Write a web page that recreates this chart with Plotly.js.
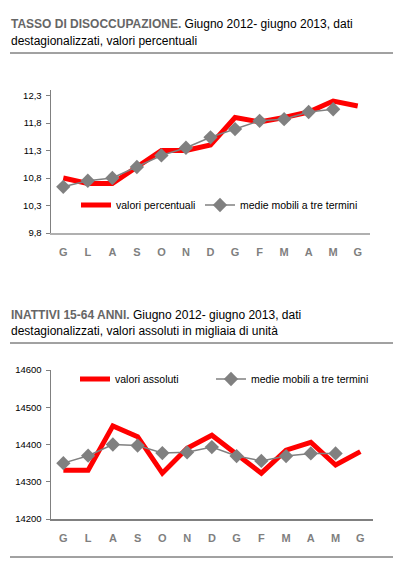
<!DOCTYPE html>
<html>
<head>
<meta charset="utf-8">
<script src="https://cdn.plot.ly/plotly-3.0.1.min.js"></script>
<style>html,body{margin:0;padding:0;background:#fff;}#chart{width:399px;height:570px;}</style>
</head>
<body>
<div id="chart"></div>
<script>
// ---- data ----
var months = ['G','L','A','S','O','N','D','G','F','M','A','M','G'];
var rateValues = [10.8, 10.7, 10.7, 11.0, 11.3, 11.3, 11.4, 11.9, 11.82, 11.9, 12.0, 12.2, 12.11];
var rateMovingAvg = [10.64, 10.75, 10.8, 11.0, 11.21, 11.35, 11.54, 11.69, 11.84, 11.87, 12.0, 12.05, null];
var rateTickVals = [9.8, 10.3, 10.8, 11.3, 11.8, 12.3];
var rateTickText = ['9,8', '10,3', '10,8', '11,3', '11,8', '12,3'];
var inactValues = [14331, 14331, 14450, 14421, 14323, 14390, 14425, 14372, 14323, 14385, 14406, 14345, 14381];
var inactMovingAvg = [14350, 14370, 14400, 14397, 14377, 14379, 14393, 14369, 14356, 14369, 14376, 14376, null];
var inactTickVals = [14200, 14300, 14400, 14500, 14600];
var inactTickText = ['14200', '14300', '14400', '14500', '14600'];
var nameRate = 'valori percentuali';
var nameInact = 'valori assoluti';
var nameMA = 'medie mobili a tre termini';
var title1Bold = 'TASSO DI DISOCCUPAZIONE.';
var title1Line1 = ' Giugno 2012- giugno 2013, dati';
var title1Line2 = 'destagionalizzati, valori percentuali';
var title2Bold = 'INATTIVI 15-64 ANNI.';
var title2Line1 = ' Giugno 2012- giugno 2013, dati';
var title2Line2 = 'destagionalizzati, valori assoluti in migliaia di unità';

// ---- layout helpers ----
var W = 399, H = 570;
function fx(p){ return p / W; }
function fy(p){ return 1 - p / H; }
var idx = months.map(function(_, i){ return i; });
var FONT = 'Liberation Sans, Arial, sans-serif';
var RED = '#ff0000', GRAY = '#808080';

var traces = [
  {x: idx, y: rateValues, xaxis: 'x', yaxis: 'y', name: nameRate, mode: 'lines',
   line: {color: RED, width: 5}, legend: 'legend'},
  {x: idx, y: rateMovingAvg, xaxis: 'x', yaxis: 'y', name: nameMA, mode: 'lines+markers',
   line: {color: GRAY, width: 1.5}, marker: {symbol: 'diamond', size: 11, color: GRAY}, legend: 'legend2'},
  {x: idx, y: inactValues, xaxis: 'x2', yaxis: 'y2', name: nameInact, mode: 'lines',
   line: {color: RED, width: 5}, legend: 'legend3'},
  {x: idx, y: inactMovingAvg, xaxis: 'x2', yaxis: 'y2', name: nameMA, mode: 'lines+markers',
   line: {color: GRAY, width: 1.5}, marker: {symbol: 'diamond', size: 11, color: GRAY}, legend: 'legend4'}
];

function xAxis(domain, anchor, lc, lw){
  return {domain: domain, anchor: anchor, range: [-0.5, months.length - 0.5],
    tickmode: 'array', tickvals: idx, ticktext: months.map(function(m){ return '<b>' + m + '</b>'; }),
    showgrid: false, zeroline: false, showline: true, linecolor: lc, linewidth: lw,
    ticks: '', ticklabelstandoff: 8,
    tickfont: {family: FONT, size: 11, color: '#7f7f7f'}, fixedrange: true};
}
function yAxis(domain, anchor, range, tv, tt){
  return {domain: domain, anchor: anchor, range: range, tickmode: 'array', tickvals: tv, ticktext: tt,
    showgrid: false, zeroline: false, showline: true, linecolor: GRAY, linewidth: 1.5,
    ticks: 'outside', ticklen: 4, tickcolor: GRAY, tickwidth: 1, ticklabelstandoff: 2,
    tickfont: {family: FONT, size: 9.5, color: '#000'}, fixedrange: true};
}
function legendAt(px, py){
  return {x: fx(px), y: fy(py), xanchor: 'left', yanchor: 'middle', orientation: 'h',
    bgcolor: 'rgba(0,0,0,0)', borderwidth: 0, font: {family: FONT, size: 10.5, color: '#000'}, tracegroupgap: 0};
}
var lineShape = function(py){
  return {type: 'line', xref: 'paper', yref: 'paper', x0: fx(10), x1: fx(393), y0: fy(py), y1: fy(py),
    line: {color: '#444', width: 1}};
};
function titleLine(text, py){
  return {xref: 'paper', yref: 'paper', x: fx(9), y: fy(py), xanchor: 'left', yanchor: 'middle', align: 'left',
    showarrow: false, text: text, font: {family: FONT, size: 12, color: '#000'}};
}

var layout = {
  width: W, height: H, margin: {l: 0, r: 0, t: 0, b: 0},
  paper_bgcolor: '#fff', plot_bgcolor: '#fff',
  xaxis: xAxis([fx(51), fx(370)], 'y', '#b0b0b0', 2),
  yaxis: yAxis([fy(233), fy(90)], 'x', [9.8, 12.4], rateTickVals, rateTickText),
  xaxis2: xAxis([fx(51), fx(372.7)], 'y2', '#808080', 1.5),
  yaxis2: yAxis([fy(519), fy(370)], 'x2', [14200, 14600], inactTickVals, inactTickText),
  legend: legendAt(76, 205),
  legend2: legendAt(200, 205),
  legend3: legendAt(75, 379),
  legend4: legendAt(211, 379),
  shapes: [lineShape(53), lineShape(343), lineShape(557)],
  annotations: [
    titleLine('<b><span style="color:#666666">' + title1Bold + '</span></b>' + title1Line1, 24),
    titleLine(title1Line2, 41),
    titleLine('<b><span style="color:#666666">' + title2Bold + '</span></b>' + title2Line1, 315),
    titleLine(title2Line2, 331)
  ],
  showlegend: true
};

Plotly.newPlot('chart', traces, layout, {staticPlot: true, displayModeBar: false});
</script>
</body>
</html>
